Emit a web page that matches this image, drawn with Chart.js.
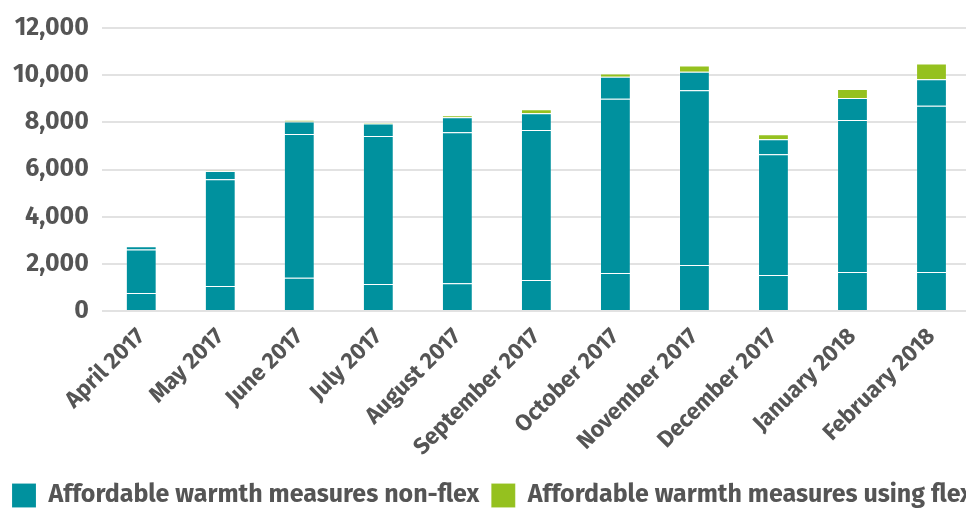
<!DOCTYPE html>
<html>
<head>
<meta charset="utf-8">
<script src="https://cdn.jsdelivr.net/npm/chart.js@4/dist/chart.umd.min.js"></script>
<style>
  html, body { margin: 0; padding: 0; overflow: hidden; background: #fff; }
  #wrap { width: 1040px; height: 509px; }
</style>
</head>
<body>
<div id="wrap"><canvas id="warmth"></canvas></div>
<script>
var months = ['April 2017', 'May 2017', 'June 2017', 'July 2017', 'August 2017',
  'September 2017', 'October 2017', 'November 2017', 'December 2017',
  'January 2018', 'February 2018'];

// non-flex bars are drawn in three stacked parts (faint lines inside the bars)
var nonFlexPart1 = [760, 1055, 1410, 1140, 1180, 1310, 1610, 1950, 1525, 1650, 1650];
var nonFlexPart2 = [1850, 4530, 6100, 6280, 6400, 6370, 7390, 7410, 5125, 6450, 7050];
var nonFlexPart3 = [140, 355, 525, 530, 640, 710, 930, 780, 630, 930, 1130];
var usingFlex = [0, 20, 55, 40, 70, 160, 140, 270, 210, 380, 670];

var yTicks = [0, 2000, 4000, 6000, 8000, 10000, 12000];

var teal = '#00919e';
var green = '#95c11f';
var textGrey = '#555555';
var fontFamily = '"Fira Sans", "Open Sans", Roboto, sans-serif';

function init() {
  var element = document.getElementById('warmth').getContext('2d');

  function part(label, data, colour, hide) {
    return {
      label: label,
      data: data,
      backgroundColor: colour,
      borderColor: 'rgba(255,255,255,0.14)',
      borderWidth: 1,
      hideInLegend: hide
    };
  }

  new Chart(element, {
    type: 'bar',
    data: {
      labels: months,
      datasets: [
        part('Affordable warmth measures non-flex', nonFlexPart1, teal, false),
        part('Affordable warmth measures non-flex (2)', nonFlexPart2, teal, true),
        part('Affordable warmth measures non-flex (3)', nonFlexPart3, teal, true),
        part('Affordable warmth measures using flex', usingFlex, green, false)
      ]
    },
    options: {
      responsive: true,
      maintainAspectRatio: false,
      animation: false,
      datasets: { bar: { barPercentage: 0.39, categoryPercentage: 1 } },
      layout: { padding: { top: 16, right: 0, left: 0, bottom: -9 } },
      plugins: {
        tooltip: { enabled: false },
        legend: {
          position: 'bottom',
          align: 'start',
          labels: {
            boxWidth: 24,
            boxHeight: 24,
            padding: 12,
            color: textGrey,
            font: { family: fontFamily, size: 25, weight: 'bold' },
            filter: function(item, data) {
              return !data.datasets[item.datasetIndex].hideInLegend;
            }
          }
        }
      },
      scales: {
        x: {
          stacked: true,
          grid: { display: false },
          border: { display: false },
          ticks: {
            color: textGrey,
            maxRotation: 45,
            minRotation: 45,
            padding: 4,
            font: { family: fontFamily, size: 23, weight: 'bold' }
          },
          afterFit: function(scale) { scale.height += 6; }
        },
        y: {
          stacked: true,
          min: 0,
          max: 12000,
          afterBuildTicks: function(axis) {
            axis.ticks = yTicks.map(function(v) { return { value: v }; });
          },
          grid: { color: '#e2e2e2', lineWidth: 2, drawTicks: false },
          border: { display: false },
          ticks: {
            color: textGrey,
            padding: 13,
            font: { family: fontFamily, size: 25, weight: 'bold' },
            callback: function(v) { return v.toLocaleString('en-GB'); }
          }
        },
        // empty right axis, only keeps space on the right of the plot
        spacer: {
          position: 'right',
          grid: { display: false },
          border: { display: false },
          ticks: { display: false },
          afterFit: function(scale) { scale.width = 69; }
        }
      }
    }
  });
}

init();
</script>
</body>
</html>
